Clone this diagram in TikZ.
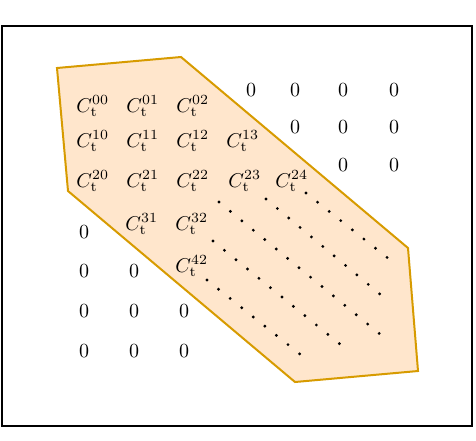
\documentclass[tikz,border=0pt]{standalone}
\usepackage{amsmath}
\usepackage{tikz}

\definecolor{laranja}{HTML}{FFE6CC}
\definecolor{borda}{HTML}{D79B00}

\tikzset{
  entrada/.style={inner sep=0pt, anchor=base west},
  zero/.style={inner sep=0pt, anchor=base},
  reticencias/.style={line width=1.6pt, line cap=round, dash pattern=on 0pt off 7.4pt},
}

\begin{document}
\begin{tikzpicture}[x=0.5pt, y=-0.5pt]
    \useasboundingbox (0,0) rectangle (476,440);

    % moldura
    \draw[line width=1.1pt] (2,26) rectangle (472,426);

    % região destacada
    \draw[borda, fill=laranja, line width=1pt] (57,68) -- (181,57) -- (408,248) -- (418,371) -- (295,382) -- (68,191) -- cycle;

    % entradas C
    \node[entrada] (c00) at (76,112) {$C_{\mathrm{t}}^{00}$};
    \node[entrada] (c01) at (126,112) {$C_{\mathrm{t}}^{01}$};
    \node[entrada] (c02) at (176,112) {$C_{\mathrm{t}}^{02}$};
    \node[entrada] (c10) at (76,147) {$C_{\mathrm{t}}^{10}$};
    \node[entrada] (c11) at (126,147) {$C_{\mathrm{t}}^{11}$};
    \node[entrada] (c12) at (176,147) {$C_{\mathrm{t}}^{12}$};
    \node[entrada] (c13) at (226,147) {$C_{\mathrm{t}}^{13}$};
    \node[entrada] (c20) at (76,187) {$C_{\mathrm{t}}^{20}$};
    \node[entrada] (c21) at (126,187) {$C_{\mathrm{t}}^{21}$};
    \node[entrada] (c22) at (176,187) {$C_{\mathrm{t}}^{22}$};
    \node[entrada] (c23) at (228,187) {$C_{\mathrm{t}}^{23}$};
    \node[entrada] (c24) at (275,187) {$C_{\mathrm{t}}^{24}$};
    \node[entrada] (c31) at (125,230) {$C_{\mathrm{t}}^{31}$};
    \node[entrada] (c32) at (175,230) {$C_{\mathrm{t}}^{32}$};
    \node[entrada] (c42) at (175,272) {$C_{\mathrm{t}}^{42}$};

    % zeros acima
    \node[zero] (z03) at (251,96.5) {$0$};
    \node[zero] (z04) at (295,96.5) {$0$};
    \node[zero] (z05) at (343,96.5) {$0$};
    \node[zero] (z06) at (394,96.5) {$0$};
    \node[zero] (z14) at (295,133.5) {$0$};
    \node[zero] (z15) at (343,133.5) {$0$};
    \node[zero] (z16) at (394,133.5) {$0$};
    \node[zero] (z25) at (343,171.5) {$0$};
    \node[zero] (z26) at (394,171.5) {$0$};

    % zeros abaixo
    \node[zero] (z30) at (84,238.5) {$0$};
    \node[zero] (z40) at (84,277.5) {$0$};
    \node[zero] (z41) at (134,277.5) {$0$};
    \node[zero] (z50) at (84,317.5) {$0$};
    \node[zero] (z51) at (134,317.5) {$0$};
    \node[zero] (z52) at (184,317.5) {$0$};
    \node[zero] (z60) at (84,357.5) {$0$};
    \node[zero] (z61) at (134,357.5) {$0$};
    \node[zero] (z62) at (184,357.5) {$0$};

    % reticências diagonais
    \draw[reticencias] (306,193) coordinate (d1a) -- (389,259) coordinate (d1b);
    \draw[reticencias] (266,199) coordinate (d2a) -- (381,295) coordinate (d2b);
    \draw[reticencias] (219,202) coordinate (d3a) -- (381,335) coordinate (d3b);
    \draw[reticencias] (213,241) coordinate (d4a) -- (341,345) coordinate (d4b);
    \draw[reticencias] (207,280) coordinate (d5a) -- (301,355) coordinate (d5b);
\end{tikzpicture}
\end{document}
